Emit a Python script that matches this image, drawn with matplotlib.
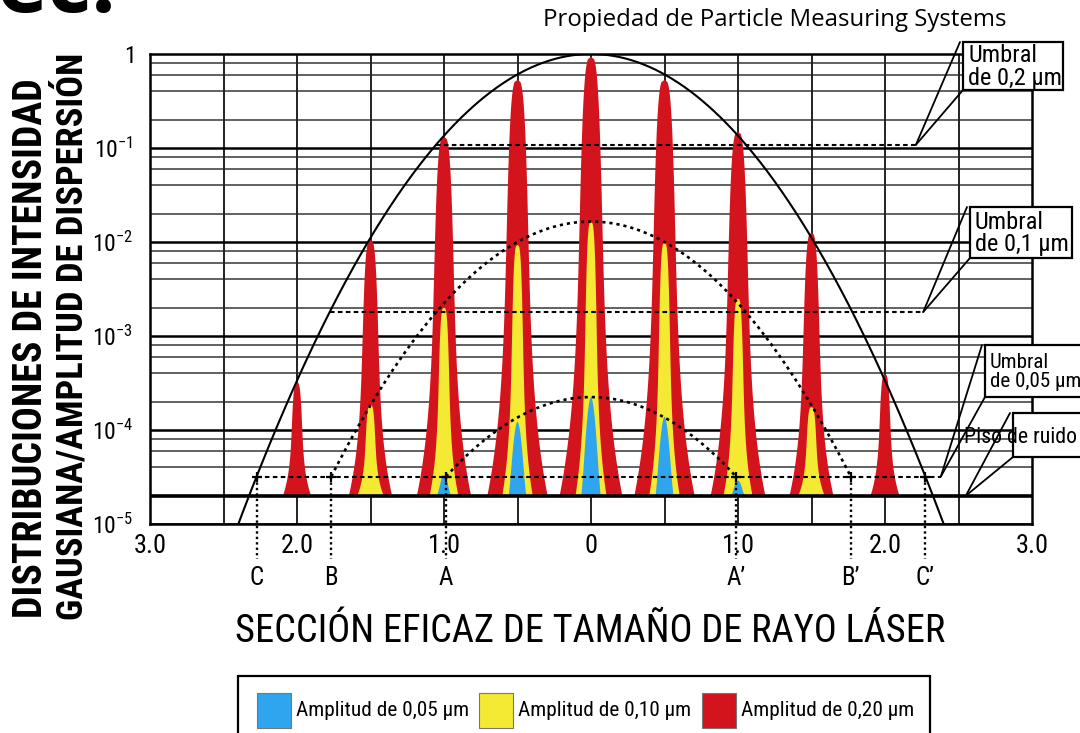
import numpy as np
import matplotlib
matplotlib.use('Agg')
import matplotlib.pyplot as plt
from matplotlib import font_manager
from matplotlib.patches import Rectangle, ConnectionPatch

# values
peak_x = [-2.0, -1.5, -1.0, -0.5, 0.0, 0.5, 1.0, 1.5, 2.0]
red_amp = [3.2e-4, 1.05e-2, 0.131, 0.53, 0.93, 0.53, 0.148, 1.25e-2, 3.9e-4]
yellow_x = [-1.5, -1.0, -0.5, 0.0, 0.5, 1.0, 1.5]
yellow_amp = [1.85e-4, 2.0e-3, 9.3e-3, 1.63e-2, 9.8e-3, 2.5e-3, 1.75e-4]
blue_x = [-1.0, -0.5, 0.0, 0.5, 1.0]
blue_amp = [3.3e-5, 1.22e-4, 2.24e-4, 1.38e-4, 2.9e-5]

envelope_max = [1.0, 1.65e-2, 2.24e-4]      # 0,20 / 0,10 / 0,05 um
threshold = [0.108, 1.8e-3, 3.2e-5]         # umbral 0,2 / 0,1 / 0,05 um
noise_floor = 2.0e-5

x_ticks = [-3, -2, -1, 0, 1, 2, 3]
x_ticklabels = ['3.0', '2.0', '1.0', '0', '1.0', '2.0', '3.0']
y_ticks = [1e-5, 1e-4, 1e-3, 1e-2, 1e-1, 1]
y_ticklabels = [r'$10^{-5}$', r'$10^{-4}$', r'$10^{-3}$', r'$10^{-2}$', r'$10^{-1}$', r'$1$']
left_points = ['C', 'B', 'A']
right_points = ['C’', 'B’', 'A’']
legend_labels = ['Amplitud de 0,05 µm', 'Amplitud de 0,10 µm', 'Amplitud de 0,20 µm']
callout_texts = ['Umbral\nde 0,2 µm', 'Umbral\nde 0,1 µm', 'Umbral\nde 0,05 µm', 'Piso de ruido']

RED, YELLOW, BLUE = '#d3141d', '#f4ea33', '#2fa4ef'

names = {f.name for f in font_manager.fontManager.ttflist}
NARROW = next((f for f in ['Liberation Sans Narrow', 'Roboto Condensed'] if f in names), 'Liberation Sans')
plt.rcParams['font.family'] = [NARROW, 'DejaVu Sans']
plt.rcParams['mathtext.fontset'] = 'custom'
plt.rcParams['mathtext.rm'] = NARROW
plt.rcParams['mathtext.it'] = NARROW

W, H = 1080, 733
PX_UNIT = 147.0  # pixels per x unit


def fx(px):
    return px / W


def fy(py):
    return 1 - py / H


def envelope(x, top):
    return top * np.exp(-2 * x ** 2)


def crossing(top, level):
    return np.sqrt(np.log(top / level) / 2)


def peak_outline(x0, amp, base_px, m, q):
    d = np.linspace(0, 1, 200)
    u = (1 - m) * d ** q + m * d ** 5
    y = amp * (noise_floor / amp) ** d
    w = base_px * u / PX_UNIT
    xs = np.concatenate([x0 - w[::-1], x0 + w])
    ys = np.concatenate([y[::-1], y])
    return xs, ys


def fit_width(txt, width_px, vertical=False):
    r = fig.canvas.get_renderer()
    bb = txt.get_window_extent(renderer=r)
    cur = bb.height if vertical else bb.width
    txt.set_fontsize(txt.get_fontsize() * width_px / cur)
    return txt.get_fontsize()


fig = plt.figure(figsize=(W / 100, H / 100), dpi=100)
ax = fig.add_axes([fx(150), fy(524), fx(1032) - fx(150), fy(54) - fy(524)])
ax.set_yscale('log')
ax.set_xlim(-3, 3)
ax.set_ylim(1e-5, 1)

# grid
for xv in np.arange(-2.5, 2.6, 0.5):
    ax.axvline(xv, color='#222222', lw=1.4, zorder=0.5)
for k in range(-5, 0):
    for m in [2, 4, 6, 8]:
        ax.axhline(m * 10.0 ** k, color='#555555', lw=1.3, zorder=0.4)
    ax.axhline(10.0 ** k, color='black', lw=1.8, zorder=0.6)
for s in ax.spines.values():
    s.set_linewidth(1.8)

# pulses
for x0, a in zip(peak_x, red_amp):
    hdec = np.log10(a / noise_floor)
    xs, ys = peak_outline(x0, a, 8 + 5 * hdec, 0.52, 0.3)
    ax.fill(xs, ys, color=RED, lw=0, zorder=2)
for x0, a in zip(yellow_x, yellow_amp):
    hdec = np.log10(a / noise_floor)
    xs, ys = peak_outline(x0, a, 12 + 1.2 * hdec, 0.52, 0.3)
    ax.fill(xs, ys, color=YELLOW, lw=0, zorder=2.1)
for x0, a in zip(blue_x, blue_amp):
    hdec = np.log10(a / noise_floor)
    xs, ys = peak_outline(x0, a, 6 + 3.5 * hdec, 0.1, 0.55)
    ax.fill(xs, ys, color=BLUE, lw=0, zorder=2.2)

ax.axhline(noise_floor, color='black', lw=2.6, zorder=3)

# envelopes
xx = np.linspace(-3, 3, 600)
ax.plot(xx, envelope(xx, envelope_max[0]), color='black', lw=1.5, zorder=4)
for top in envelope_max[1:]:
    xe = crossing(top, threshold[2])
    xd = np.linspace(-xe, xe, 300)
    ax.plot(xd, envelope(xd, top), color='black', lw=1.9, ls=(0, (1.2, 1.5)), zorder=4)

# threshold lines, left end on the 0,2 um envelope, right end at the callout tip
tip_x = [2.21, 2.26, 2.38, 2.55]
for lvl, xr in zip(threshold, tip_x):
    xl = -crossing(envelope_max[0], lvl)
    ax.plot([xl, xr], [lvl, lvl], color='black', lw=1.5, ls=(0, (2.2, 1.6)), zorder=4)

# crossing points A, B, C and their drop lines
ytr = ax.get_xaxis_transform()
frac = (np.log10(threshold[2]) + 5) / 5
for top, lab_l, lab_r in zip(envelope_max, left_points, right_points):
    xc = crossing(top, threshold[2])
    for sgn, lab in [(-1, lab_l), (1, lab_r)]:
        ax.plot([sgn * xc, sgn * xc], [frac, -0.075], transform=ytr, color='black',
                lw=1.7, ls=(0, (1, 1.3)), clip_on=False, zorder=4)
        ax.plot(sgn * xc, threshold[2], marker='+', ms=7, mew=1.6, color='black', zorder=5)
        ax.text(sgn * xc, -0.115, lab, transform=ytr, ha='center', va='center', fontsize=18)

ax.set_xticks(x_ticks)
ax.set_xticklabels(x_ticklabels)
ax.set_yticks(y_ticks)
ax.set_yticklabels(y_ticklabels)
ax.minorticks_off()
ax.tick_params(axis='x', length=0, pad=7, labelsize=19)
ax.tick_params(axis='y', length=0, pad=12, labelsize=17)

# callouts
boxes = [(963, 42, 1063, 90), (970, 207, 1072, 258), (985, 345, 1100, 397), (1013, 413, 1100, 457)]
tip_y = threshold + [noise_floor]
csize = None
for i, ((x0, y0, x1, y1), txt) in enumerate(zip(boxes, callout_texts)):
    fig.add_artist(Rectangle((fx(x0), fy(y1)), fx(x1) - fx(x0), fy(y0) - fy(y1),
                             transform=fig.transFigure, facecolor='white',
                             edgecolor='black', lw=1.6, zorder=5))
    for cx, cy in [(x0 - 3, y0), (x0, y1)]:
        fig.add_artist(ConnectionPatch(xyA=(tip_x[i], tip_y[i]), coordsA=ax.transData,
                                       xyB=(fx(cx), fy(cy)), coordsB=fig.transFigure,
                                       color='black', lw=1.3, zorder=6))
    if i < 3:
        t = fig.text(fx(x0 + 5), fy((y0 + y1) / 2 + 1), txt, ha='left', va='center',
                     fontsize=15, linespacing=0.95, zorder=7)
        if csize is None:
            csize = fit_width(t, 94)
        else:
            # keep the narrower last callouts inside the picture
            t.set_fontsize(csize if i == 1 else csize * 0.86)
    else:
        fig.text(fx(964), fy(438), txt, ha='left', va='center', fontsize=csize * 0.9, zorder=7)

# axis titles
t = fig.text(fx(590), fy(632), 'SECCIÓN EFICAZ DE TAMAÑO DE RAYO LÁSER',
             ha='center', va='center', fontsize=24)
fit_width(t, 710)
t1 = fig.text(fx(31), fy(618), 'DISTRIBUCIONES DE INTENSIDAD', rotation=90,
              ha='center', va='bottom', fontsize=24, weight='bold')
fit_width(t1, 540, vertical=True)
t2 = fig.text(fx(72), fy(620), 'GAUSIANA/AMPLITUD DE DISPERSIÓN', rotation=90,
              ha='center', va='bottom', fontsize=24, weight='bold')
fit_width(t2, 568, vertical=True)

t = fig.text(fx(543), fy(20), 'Propiedad de Particle Measuring Systems',
             ha='left', va='center', fontsize=16, family=['Open Sans', 'DejaVu Sans'])
fit_width(t, 462)
fig.text(fx(-4), fy(12), 'ec.', ha='left', va='baseline', fontsize=62, weight='bold',
         family=['Open Sans', 'DejaVu Sans'])

# legend
fig.add_artist(Rectangle((fx(238), fy(740)), fx(930) - fx(238), fy(676) - fy(740),
                         transform=fig.transFigure, facecolor='white', edgecolor='black', lw=1.6))
lsize = None
for col, lab, sx in zip([BLUE, YELLOW, RED], legend_labels, [257, 479, 702]):
    fig.add_artist(Rectangle((fx(sx), fy(728)), fx(34) - fx(0), fy(693) - fy(728),
                             transform=fig.transFigure, facecolor=col, edgecolor='#777777', lw=0.8))
    t = fig.text(fx(sx + 39), fy(711), lab, ha='left', va='center', fontsize=13)
    if lsize is None:
        lsize = fit_width(t, 172)
    else:
        t.set_fontsize(lsize)

fig.savefig('out.png', dpi=100)
